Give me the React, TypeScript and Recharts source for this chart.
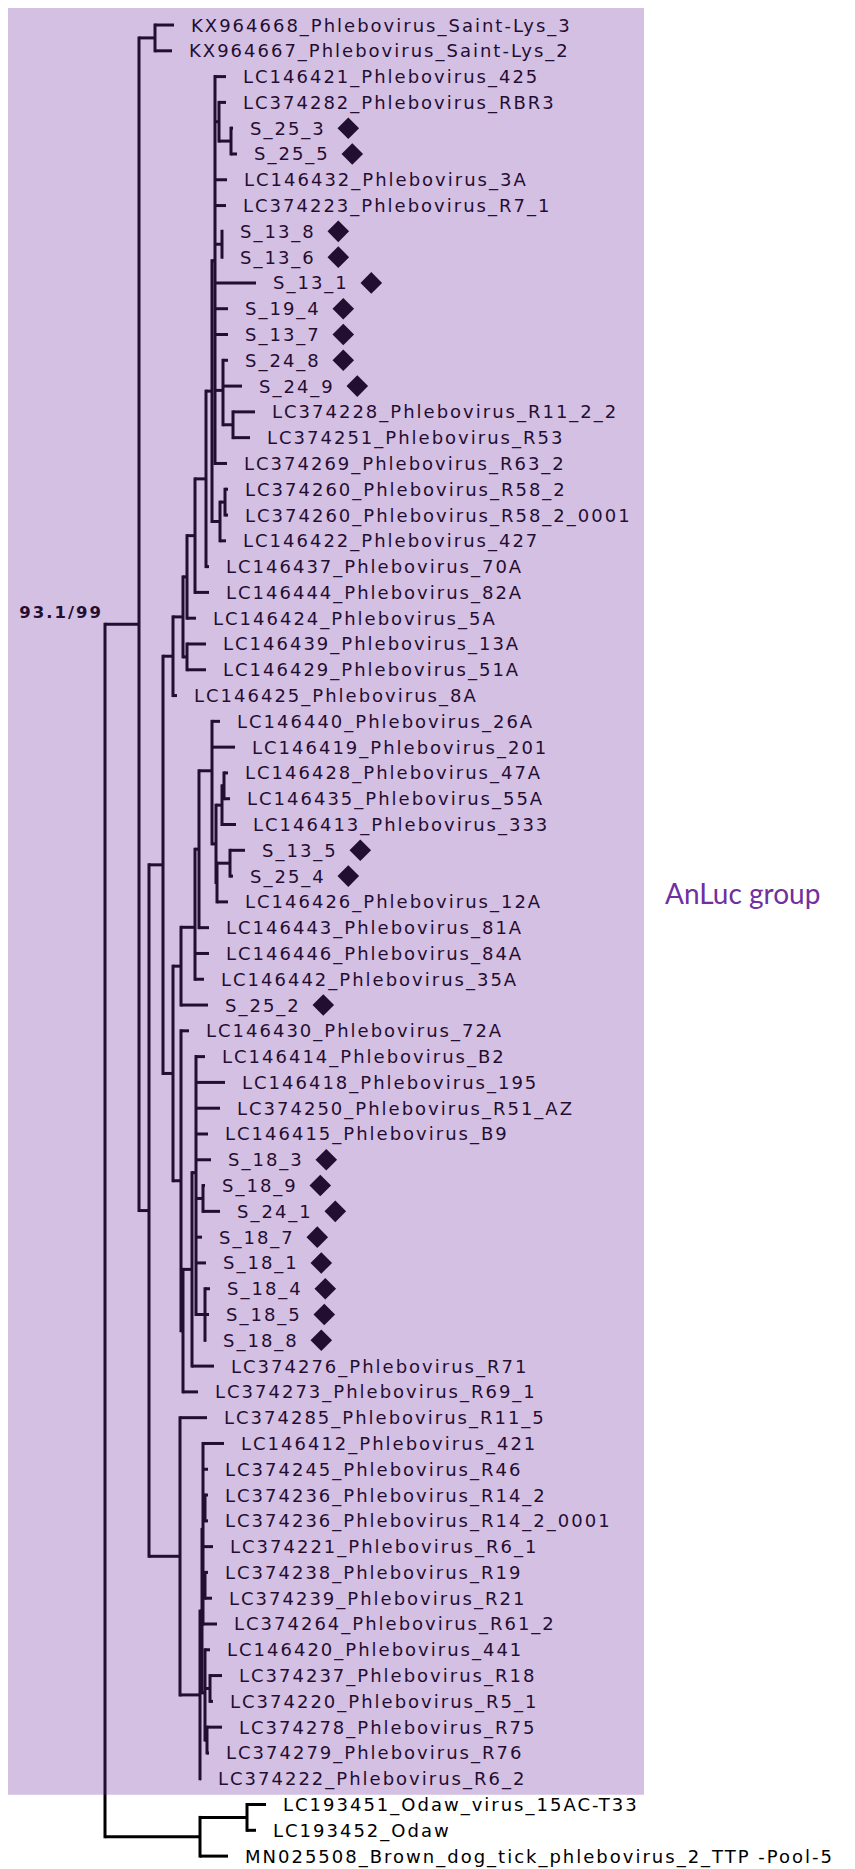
import { ComposedChart, XAxis, YAxis, Scatter, ReferenceLine, ReferenceArea } from "recharts";

// tip labels, top to bottom
const LEAF_NAMES = [
  "KX964668_Phlebovirus_Saint-Lys_3",
  "KX964667_Phlebovirus_Saint-Lys_2",
  "LC146421_Phlebovirus_425",
  "LC374282_Phlebovirus_RBR3",
  "S_25_3", "S_25_5",
  "LC146432_Phlebovirus_3A",
  "LC374223_Phlebovirus_R7_1",
  "S_13_8", "S_13_6", "S_13_1", "S_19_4", "S_13_7", "S_24_8", "S_24_9",
  "LC374228_Phlebovirus_R11_2_2",
  "LC374251_Phlebovirus_R53",
  "LC374269_Phlebovirus_R63_2",
  "LC374260_Phlebovirus_R58_2",
  "LC374260_Phlebovirus_R58_2_0001",
  "LC146422_Phlebovirus_427",
  "LC146437_Phlebovirus_70A",
  "LC146444_Phlebovirus_82A",
  "LC146424_Phlebovirus_5A",
  "LC146439_Phlebovirus_13A",
  "LC146429_Phlebovirus_51A",
  "LC146425_Phlebovirus_8A",
  "LC146440_Phlebovirus_26A",
  "LC146419_Phlebovirus_201",
  "LC146428_Phlebovirus_47A",
  "LC146435_Phlebovirus_55A",
  "LC146413_Phlebovirus_333",
  "S_13_5", "S_25_4",
  "LC146426_Phlebovirus_12A",
  "LC146443_Phlebovirus_81A",
  "LC146446_Phlebovirus_84A",
  "LC146442_Phlebovirus_35A",
  "S_25_2",
  "LC146430_Phlebovirus_72A",
  "LC146414_Phlebovirus_B2",
  "LC146418_Phlebovirus_195",
  "LC374250_Phlebovirus_R51_AZ",
  "LC146415_Phlebovirus_B9",
  "S_18_3", "S_18_9", "S_24_1", "S_18_7", "S_18_1", "S_18_4", "S_18_5", "S_18_8",
  "LC374276_Phlebovirus_R71",
  "LC374273_Phlebovirus_R69_1",
  "LC374285_Phlebovirus_R11_5",
  "LC146412_Phlebovirus_421",
  "LC374245_Phlebovirus_R46",
  "LC374236_Phlebovirus_R14_2",
  "LC374236_Phlebovirus_R14_2_0001",
  "LC374221_Phlebovirus_R6_1",
  "LC374238_Phlebovirus_R19",
  "LC374239_Phlebovirus_R21",
  "LC374264_Phlebovirus_R61_2",
  "LC146420_Phlebovirus_441",
  "LC374237_Phlebovirus_R18",
  "LC374220_Phlebovirus_R5_1",
  "LC374278_Phlebovirus_R75",
  "LC374279_Phlebovirus_R76",
  "LC374222_Phlebovirus_R6_2",
  "LC193451_Odaw_virus_15AC-T33",
  "LC193452_Odaw",
  "MN025508_Brown_dog_tick_phlebovirus_2_TTP -Pool-5",
];

// sequences from this study (diamond)
const STUDY_SEQS = [
  "S_25_3", "S_25_5", "S_13_8", "S_13_6", "S_13_1", "S_19_4", "S_13_7", "S_24_8", "S_24_9",
  "S_13_5", "S_25_4", "S_25_2",
  "S_18_3", "S_18_9", "S_24_1", "S_18_7", "S_18_1", "S_18_4", "S_18_5", "S_18_8",
];

// newick-ish clades: leaf index or (kids), then ":" root-to-node distance (x1e-3)
const CLADE_UPPER =
  "(2:121,(3:121,(4:128,5:132):126):114,6:122,7:121,(8:118,9:118):117,10:151,11:123,12:123," +
  "(13:123,14:137,(15:150,16:145):128):118,17:122):110";
const CLADE_B1 =
  "((((((" + CLADE_UPPER + ",((18:123,19:123):120,20:121):115):107,21:104):101,22:104):90,23:91):82," +
  "(24:101,25:101):82):78,26:72):68";
const CLADE_E =
  "(27:115,28:130,(((29:123,30:125):119,31:131):117,((32:140,33:128):125,34:123):112):111):107";
const CLADE_M = "(((" + CLADE_E + ",35:104):94,36:104,37:99):90,38:103):76";
const CLADE_O =
  "(39:84,(((40:100,41:120,42:115,43:103,44:106,(45:100,46:115):98,47:97,48:101," +
  "(49:105,50:104,51:101):100):91,52:109):87,53:93):78):76";
const CLADE_C =
  "(54:102,(((55:119,56:103,(57:103,58:103):100,59:108,(60:103,61:107):100,62:112):98," +
  "(63:105,(64:117,65:108):105,(66:117,67:104):102):100):97,68:96):95):75";
const CLADE_ODAW = "((69:161,70:151):142,71:123):95";
const TREE =
  "(((0:69,1:67):50,((" + CLADE_B1 + ",(" + CLADE_M + "," + CLADE_O + "):68):58," + CLADE_C + "):44):34," +
  CLADE_ODAW + ")";

const INGROUP_SUPPORT = "93.1/99";
const GROUP_NAME = "AnLuc group";
const INGROUP_LAST_LEAF = 68;

const FONT = '"DejaVu Sans", sans-serif';
const FONT_SIZE = 18;
const LETTER_SP = 2;
const LABEL_GAP = 17;

type TNode = { kids: TNode[]; depth: number; leaf?: number; y: number };

function parseTree(s: string): TNode {
  let i = 0;
  const num = () => {
    const m = /^[\d.]+/.exec(s.slice(i))!;
    i += m[0].length;
    return parseFloat(m[0]);
  };
  const node = (): TNode => {
    let n: TNode;
    if (s[i] === "(") {
      i++;
      const kids = [node()];
      while (s[i] === ",") {
        i++;
        kids.push(node());
      }
      i++;
      n = { kids, depth: 0, y: 0 };
    } else {
      n = { kids: [], depth: 0, leaf: num(), y: 0 };
    }
    if (s[i] === ":") {
      i++;
      n.depth = num();
    }
    return n;
  };
  return node();
}

type Seg = { x1: number; y1: number; x2: number; y2: number; v: boolean };

function layout(root: TNode) {
  const segs: Seg[] = [];
  const leaves: { x: number; y: number; name: string; marked: boolean }[] = [];
  const place = (n: TNode): number => {
    if (n.leaf !== undefined) {
      n.y = n.leaf;
      const name = LEAF_NAMES[n.leaf];
      leaves.push({ x: n.depth, y: n.y, name, marked: STUDY_SEQS.includes(name) });
      return n.y;
    }
    const ys = n.kids.map(place);
    n.y = ys.reduce((a, b) => a + b, 0) / ys.length;
    segs.push({ x1: n.depth, y1: Math.min(...ys), x2: n.depth, y2: Math.max(...ys), v: true });
    n.kids.forEach((k) => segs.push({ x1: n.depth, y1: k.y, x2: k.depth, y2: k.y, v: false }));
    return n.y;
  };
  place(root);
  return { segs, leaves, ingroup: root.kids[0] };
}

const { segs, leaves, ingroup } = layout(parseTree(TREE));

let ctx: CanvasRenderingContext2D | null = null;
function textWidth(t: string) {
  if (!ctx) ctx = document.createElement("canvas").getContext("2d");
  if (!ctx) return t.length * 11;
  ctx.font = `${FONT_SIZE}px ${FONT}`;
  return ctx.measureText(t).width + LETTER_SP * (t.length - 1);
}

function LeafMark(props: any) {
  const { cx, cy, payload } = props;
  if (cx == null || cy == null) return null;
  const tx = cx + LABEL_GAP;
  let diamond = null;
  if (payload.marked) {
    const dx = tx + textWidth(payload.name) + 24.5;
    const r = 10.8;
    diamond = <path d={`M${dx},${cy - r}L${dx + r},${cy}L${dx},${cy + r}L${dx - r},${cy}Z`} fill="#000" />;
  }
  return (
    <g>
      <text x={tx} y={cy + 6.5} fontFamily={FONT} fontSize={FONT_SIZE} letterSpacing={LETTER_SP} fill="#000">
        {payload.name}
      </text>
      {diamond}
    </g>
  );
}

function SupportMark(props: any) {
  const { cx, cy } = props;
  if (cx == null || cy == null) return null;
  return (
    <text x={cx - 36} y={cy - 6} textAnchor="end" fontFamily={FONT} fontSize={16.5} fontWeight="bold" letterSpacing={LETTER_SP} fill="#000">
      {INGROUP_SUPPORT}
    </text>
  );
}

function GroupLabel(props: any) {
  const vb = props.viewBox;
  if (!vb) return null;
  return (
    <text x={vb.x + vb.width + 21} y={vb.y + vb.height / 2 + 2.5} fontFamily="Lato, sans-serif" fontSize={28} fill="#7030A0">
      {GROUP_NAME}
    </text>
  );
}

export default function App() {
  return (
    <div style={{ width: 855, height: 1869 }}>
      <style>{"html,body{margin:0;overflow:hidden}"}</style>
      <ComposedChart width={855} height={1869} margin={{ top: 8, left: 8, right: 0, bottom: 0 }}>
        <XAxis type="number" dataKey="x" domain={[-97, 750]} allowDataOverflow hide />
        <YAxis type="number" dataKey="y" domain={[-0.66, 71.5]} allowDataOverflow reversed hide />
        {segs.map((s, i) => (
          <ReferenceLine
            key={i}
            segment={[{ x: s.x1, y: s.y1 }, { x: s.x2, y: s.y2 }]}
            stroke="#000"
            strokeWidth={3}
            strokeLinecap={s.v ? "square" : "butt"}
          />
        ))}
        <Scatter data={leaves} shape={LeafMark} isAnimationActive={false} />
        <Scatter data={[{ x: ingroup.depth, y: ingroup.y }]} shape={SupportMark} isAnimationActive={false} />
        <ReferenceArea
          x1={-97}
          x2={539}
          y1={-0.66}
          y2={INGROUP_LAST_LEAF + 0.62}
          fill="#7030A0"
          fillOpacity={0.3}
          stroke="none"
          zIndex={2000}
          label={GroupLabel}
        />
      </ComposedChart>
    </div>
  );
}
